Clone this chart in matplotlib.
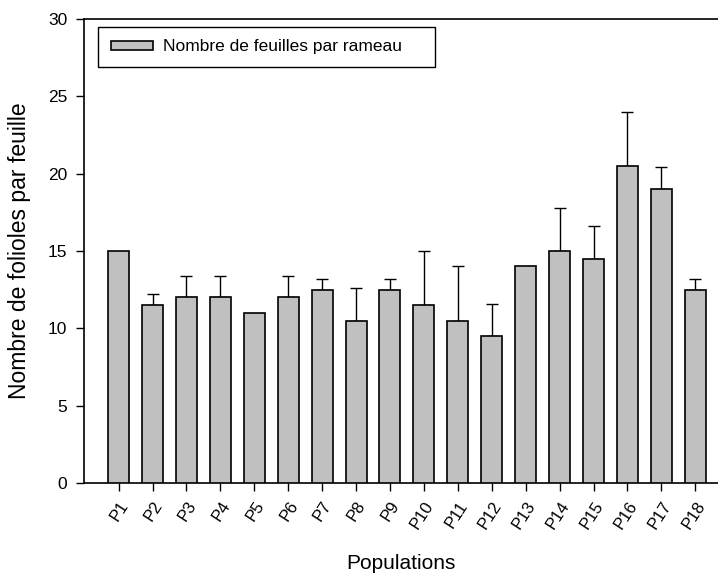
import numpy as np
import matplotlib
matplotlib.use("Agg")
from matplotlib import pyplot as plt

plt.rcParams['font.family'] = ['Liberation Sans', 'DejaVu Sans']

populations = ["P%d" % i for i in range(1, 19)]
means = [15, 11.5, 12, 12, 11, 12, 12.5, 10.5, 12.5, 11.5, 10.5, 9.5, 14, 15, 14.5, 20.5, 19, 12.5]
upper = [15, 12.2, 13.4, 13.4, 11, 13.4, 13.2, 12.6, 13.2, 15.0, 14.0, 11.6, 14, 17.8, 16.6, 24.0, 20.4, 13.2]

err_up = np.array(upper) - np.array(means)
err_lo = np.zeros(len(means))
# P1, P5, P13 have no error bar
has_err = err_up > 0

fig = plt.figure(figsize=(7.18, 5.81), dpi=100)
ax = fig.add_axes([84 / 718, 98 / 581, 634 / 718, 464 / 581])

x = np.arange(len(populations))
ax.bar(x, means, width=0.62, color='#c0c0c0', edgecolor='black', linewidth=1.2,
       label='Nombre de feuilles par rameau', zorder=3)
ax.errorbar(x[has_err], np.array(means)[has_err],
            yerr=[err_lo[has_err], err_up[has_err]],
            fmt='none', ecolor='black', elinewidth=1, capsize=4.6, capthick=1, zorder=2)

ax.set_xlim(-1.02, 17.67)
ax.set_ylim(0, 30)
ax.set_yticks([0, 5, 10, 15, 20, 25, 30])
ax.set_xticks(x)
ax.set_xticklabels(populations, rotation=57, ha='right', rotation_mode='anchor', fontsize=12)
ax.tick_params(axis='y', labelsize=12.5, direction='out', length=6, width=1, pad=6)
ax.tick_params(axis='x', direction='out', length=6, width=1, pad=5)

ax.spines['right'].set_visible(False)
for s in ['left', 'bottom', 'top']:
    ax.spines[s].set_linewidth(1.2)

ax.set_xlabel('Populations', fontsize=15, labelpad=16)
ax.set_ylabel('Nombre de folioles par feuille', fontsize=16.5, labelpad=12)

# legend box spans x 98..435 px, y 27..73 px in the figure
leg = ax.legend(loc='upper left',
                bbox_to_anchor=((98 - 84) / 634, (483 - 73) / 464, (435 - 98) / 634, (73 - 27) / 464),
                mode='expand', fontsize=12.5, frameon=True, fancybox=False,
                edgecolor='black', framealpha=1, handlelength=2.42, handleheight=0.46,
                borderpad=0.72, borderaxespad=0, handletextpad=0.58)
leg.get_frame().set_linewidth(1)

fig.savefig('out.png', dpi=100)
